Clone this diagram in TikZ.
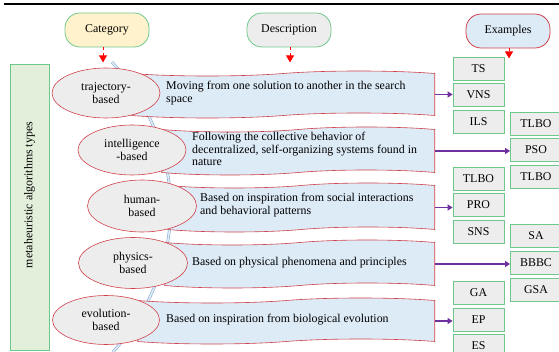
\documentclass[tikz,border=0pt]{standalone}
\usepackage{fontspec}
\setmainfont{Liberation Serif}
\usetikzlibrary{arrows.meta,shapes.geometric,shapes.symbols}
\definecolor{lineG}{RGB}{110,200,140}
\definecolor{lineR}{RGB}{208,64,74}
\definecolor{fillY}{RGB}{255,242,204}
\definecolor{fillG}{RGB}{237,237,237}
\definecolor{fillB}{RGB}{221,235,247}
\definecolor{fillL}{RGB}{226,239,218}
\definecolor{arrP}{RGB}{112,48,160}
\definecolor{arcB}{RGB}{140,170,210}

\begin{document}
\begin{tikzpicture}[x=1pt, y=-1pt, font=\fontsize{11.9}{12.7}\selectfont,
    head/.style={rectangle, rounded corners=15pt, thick, minimum width=84pt, minimum height=34pt},
    cat/.style={ellipse, draw=lineR, fill=fillG, semithick, minimum width=108pt, minimum height=50pt, align=center, inner sep=0pt},
    band/.style={tape, draw=lineR, fill=fillB, semithick, anchor=east, tape bend height=5pt},
    desc/.style={anchor=west, align=left, inner sep=0pt},
    ex/.style={rectangle, draw=lineG, fill=fillG, thick, minimum width=51pt, minimum height=23pt, inner sep=0pt},
    down/.style={red, dashed, thick, -{Triangle[width=8pt,length=7pt]}},
    link/.style={arrP, line width=1.5pt, -{Triangle[width=6pt,length=5pt]}}]

    \useasboundingbox (0,0) rectangle (559,352);
    \clip (0,0) rectangle (559,352);

    \draw[line width=2.5pt] (4,4) -- (559,4);

    % headers
    \node[head, draw=lineG, fill=fillY] (hcat) at (107,30) {Category};
    \node[head, draw=lineG, fill=fillG] (hdesc) at (289,30) {Description};
    \node[head, draw=lineR, fill=fillB] (hex) at (508,31) {Examples};

    \draw[down] ([xshift=-4pt]hcat.south) -- ++(0,15);
    \draw[down] ([xshift=1pt]hdesc.south) -- ++(0,15);
    \draw[down] ([xshift=1pt]hex.south) -- ++(0,10);

    % side label
    \node[rectangle, draw=lineG, fill=fillL, thick, rotate=90, minimum width=286pt, minimum height=39pt] (types) at (29.5,207) {\hspace*{24pt}metaheuristic algorithms types};

    % spine behind the categories
    \coordinate (top) at (112,62);
    \coordinate (bot) at (113,352);
    \draw[draw=arcB, double=fillB, line width=.6pt, double distance=1.6pt] (top) .. controls (190,150) and (190,265) .. (bot);

    % description bands
    \node[band, minimum width=303pt, minimum height=47pt] (b1) at (435,94.5) {};
    \node[band, minimum width=273pt, minimum height=48pt] (b2) at (435,151) {};
    \node[band, minimum width=267pt, minimum height=49pt] (b3) at (435,207.5) {};
    \node[band, minimum width=270pt, minimum height=48pt] (b4) at (435,264) {};
    \node[band, minimum width=297pt, minimum height=46pt] (b5) at (435,321) {};

    % categories
    \node[cat] (c1) at (106,93) {trajectory-\\based};
    \node[cat] (c2) at (132,150) {intelligence\\-based};
    \node[cat, minimum width=109pt, minimum height=52pt] (c3) at (142,206) {human-\\based};
    \node[cat, minimum width=109pt, minimum height=51pt] (c4) at (133,263) {physics-\\based};
    \node[cat, minimum width=107pt, minimum height=49pt] (c5) at (106,320) {evolution-\\based};

    \node[desc] (d1) at (166,93) {Moving from one solution to another in the search\\space};
    \node[desc] (d2) at (192,149) {Following the collective behavior of\\decentralized, self-organizing systems found in\\nature};
    \node[desc] (d3) at (200,205) {Based on inspiration from social interactions\\and behavioral patterns};
    \node[desc] (d4) at (192,263) {Based on physical phenomena and principles};
    \node[desc] (d5) at (166,320) {Based on inspiration from biological evolution};

    % examples
    \node[ex] (ts) at (478.5,69) {TS};
    \node[ex] (vns) at (478.5,95) {VNS};
    \node[ex] (ils) at (478.5,122) {ILS};
    \node[ex] (tlboa) at (478.5,179) {TLBO};
    \node[ex] (pro) at (478.5,205) {PRO};
    \node[ex] (sns) at (478.5,232) {SNS};
    \node[ex] (ga) at (478.5,293) {GA};
    \node[ex] (ep) at (478.5,320) {EP};
    \node[ex] (es) at (478.5,346) {ES};

    \node[ex] (tlbob) at (536,124) {TLBO};
    \node[ex] (pso) at (536,150) {PSO};
    \node[ex] (tlboc) at (536,177) {TLBO};
    \node[ex] (sa) at (536,236) {SA};
    \node[ex] (bbbc) at (536,263) {BBBC};
    \node[ex] (gsa) at (536,290) {GSA};

    \draw[link] (b1.east) -- (b1.east -| vns.west);
    \draw[link] (b2.east) -- (b2.east -| pso.west);
    \draw[link] (b3.east) -- (b3.east -| pro.west);
    \draw[link] (b4.east) -- (b4.east -| bbbc.west);
    \draw[link] (b5.east) -- (b5.east -| ep.west);

\end{tikzpicture}
\end{document}
